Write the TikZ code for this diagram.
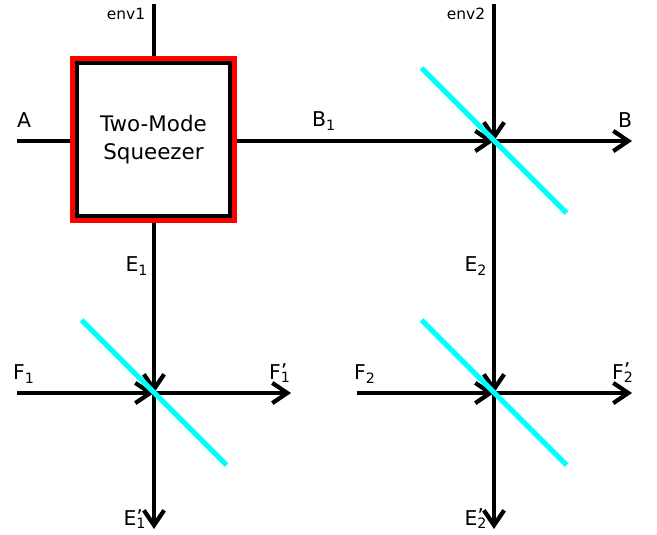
\documentclass[tikz,border=0pt]{standalone}
\usepackage{fontspec}
\setmainfont{DejaVu Sans}
\usetikzlibrary{arrows.meta,positioning,calc}
\definecolor{beam}{HTML}{000000}
\definecolor{frame}{HTML}{FF0000}
\definecolor{splitter}{HTML}{00FFFF}
\newcommand{\primesub}[2]{#1\rlap{\raisebox{0.15ex}{'}}\textsubscript{#2}}
\tikzset{
  beamline/.style={line width=2.6pt, draw=beam},
  beamarrow/.style={-{Straight Barb[length=8.5pt,width=11.5pt,line width=2.4pt]}, line width=2.6pt, draw=beam},
  splitterline/.style={line width=3pt, draw=splitter},
  squeezerbox/.style={draw=beam, fill=white, line width=2pt, minimum size=87pt,
                      inner sep=0pt, align=center, font=\fontsize{12.2}{15.8}\selectfont},
  squeezerframe/.style={draw=frame, line width=3.2pt, minimum size=91.5pt, inner sep=0pt},
  lab/.style={font=\fontsize{11.6}{14}\selectfont, inner sep=0pt},
  envlab/.style={font=\fontsize{8.8}{10}\selectfont, inner sep=0pt}
}
\begin{document}
\begin{tikzpicture}[x=0.02cm,y=-0.02cm]
  \useasboundingbox (0,0) rectangle (657,535);
  % junctions
  \coordinate (bsB) at (494,141);
  \coordinate (bsE) at (154,393);
  \coordinate (bsF) at (494,393);
  % free ends
  \coordinate (envA) at (154,4);
  \coordinate (envB) at (494,4);
  \coordinate (inA) at (17,141);
  \coordinate (outB) at (632,141);
  \coordinate (inFa) at (17,393);
  \coordinate (outFa) at (291,393);
  \coordinate (inFb) at (357,393);
  \coordinate (outFb) at (632,393);
  \coordinate (outEa) at (154,529);
  \coordinate (outEb) at (494,529);

  \node[squeezerframe] (frame) at (153.5,139.5) {};
  \node[squeezerbox] (squeezer) at (153.5,139.5) {Two-Mode\\Squeezer};

  \draw[beamline] (envA) -- (frame.north -| envA);
  \draw[beamline] (inA) -- (frame.west |- inA);
  \draw[beamarrow] (frame.east |- bsB) -- (bsB);
  \draw[beamarrow] (frame.south -| bsE) -- (bsE);
  \draw[beamarrow] (envB) -- (bsB);
  \draw[beamarrow] (bsB) -- (outB);
  \draw[beamarrow] (bsB) -- (bsF);
  \draw[beamarrow] (inFa) -- (bsE);
  \draw[beamarrow] (bsE) -- (outFa);
  \draw[beamarrow] (bsE) -- (outEa);
  \draw[beamarrow] (inFb) -- (bsF);
  \draw[beamarrow] (bsF) -- (outFb);
  \draw[beamarrow] (bsF) -- (outEb);

  \foreach \bs in {bsB,bsE,bsF} {
    \draw[splitterline] ($(\bs)+(-72.5,-73)$) -- ($(\bs)+(72.5,72)$);
  }

  \node[envlab] (labenvA) at (126,14) {env1};
  \node[envlab] (labenvB) at (466,14) {env2};
  \node[lab] (labA) at (24,120) {A};
  \node[lab] (labB) at (625,120) {B};
  \node[lab] (labBa) at (324,121) {B\textsubscript{1}};
  \node[lab] (labEa) at (137,266) {E\textsubscript{1}};
  \node[lab] (labEb) at (476,266) {E\textsubscript{2}};
  \node[lab] (labFa) at (24,374) {F\textsubscript{1}};
  \node[lab] (labFb) at (365,374) {F\textsubscript{2}};
  \node[lab] (labFap) at (280,373) {\primesub{F}{1}};
  \node[lab] (labFbp) at (623,373) {\primesub{F}{2}};
  \node[lab] (labEap) at (135,519) {\primesub{E}{1}};
  \node[lab] (labEbp) at (476,519) {\primesub{E}{2}};
\end{tikzpicture}
\end{document}
